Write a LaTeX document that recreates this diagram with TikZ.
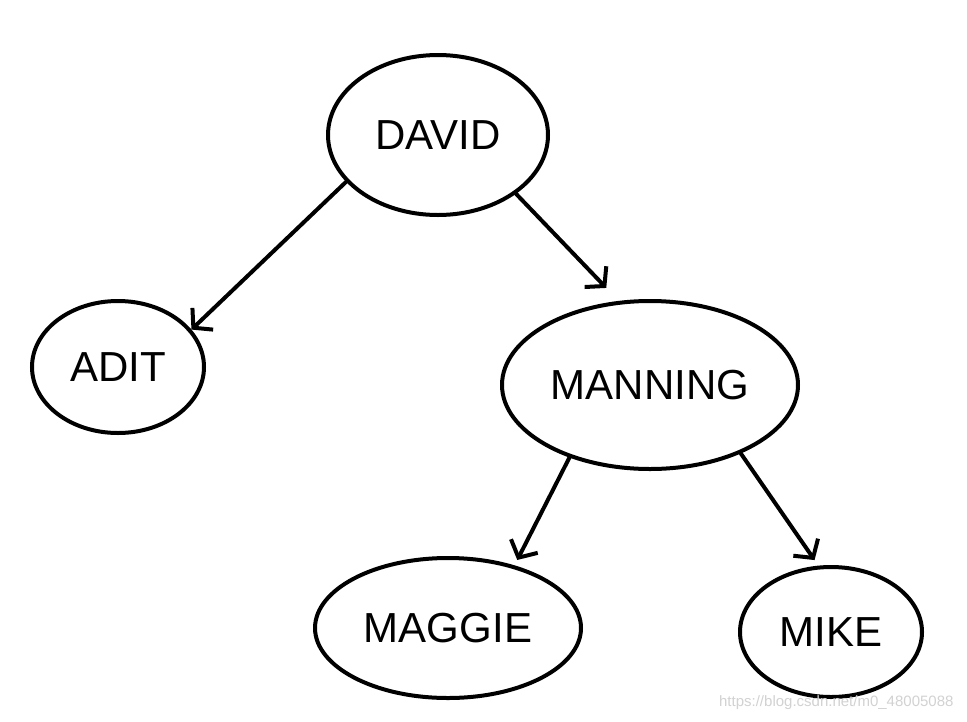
\documentclass[tikz,border=0pt]{standalone}
\usepackage{fontspec}
\setmainfont{Liberation Sans}
\usetikzlibrary{shapes.geometric,arrows.meta}
\begin{document}
\begin{tikzpicture}[x=1pt,y=-1pt,
  person/.style={ellipse,draw,line width=4pt,inner sep=0pt,font=\fontsize{42}{46}\selectfont},
  link/.style={line width=4pt,line cap=round,-{Straight Barb[length=13pt,width=30pt,line width=4pt]}},
  wmtext/.style={text=gray!35,font=\fontsize{15}{17}\selectfont}]
\fill[white] (0,0) rectangle (967,721);
\useasboundingbox (0,0) rectangle (967,721);
\node[person,minimum width=220pt,minimum height=160pt] (david) at (438,135) {DAVID};
\node[person,minimum width=172pt,minimum height=132pt] (adit) at (118,367) {ADIT};
\node[person,minimum width=296pt,minimum height=168pt] (manning) at (650,385) {MANNING};
\node[person,minimum width=266pt,minimum height=140pt] (maggie) at (448,628) {MAGGIE};
\node[person,minimum width=182pt,minimum height=130pt] (mike) at (831,632) {MIKE};
\draw[link] (david.207) -- (adit.27);
\draw[link] (david.323) -- ([shift={(-5,-14)}]manning.115);
\draw[link] (manning.222) -- ([shift={(4,-5)}]maggie.44);
\draw[link] (manning.323) -- ([shift={(0,-6)}]mike.104);
\node[wmtext,anchor=east] (wm) at (957,703) {https://blog.csdn.net/m0\_48005088};
\end{tikzpicture}
\end{document}
